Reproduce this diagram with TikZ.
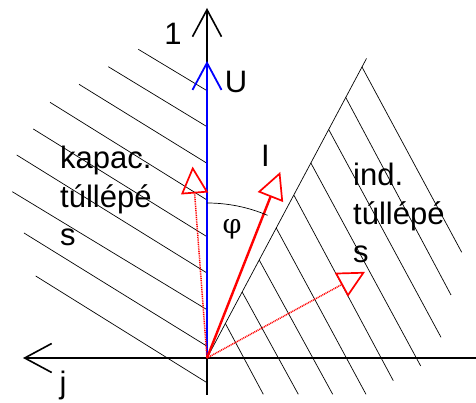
\documentclass[tikz,border=0pt]{standalone}
\usepackage{fontspec}
\setmainfont{Liberation Sans}
\newfontfamily\greekfont{DejaVu Serif}
\usetikzlibrary{arrows.meta, calc}

\begin{document}
\begin{tikzpicture}[x=1pt, y=1pt,
  axis/.style={line width=1.6pt, -{Straight Barb[length=27pt, width=29pt]}},
  hatch/.style={line width=0.7pt},
  phasor/.style={red, line width=2.4pt,
                 -{Triangle[open, length=27pt, width=27pt, line width=1.7pt]}},
  limit/.style={red, dash pattern=on 1pt off 0.8pt, line width=1.5pt,
                -{Triangle[open, length=27pt, width=27pt, line width=1.7pt]}},
  lbl/.style={font=\fontsize{31}{38.5}\selectfont, inner sep=0pt},
  zone/.style={lbl, align=left, anchor=base west}
]
  \useasboundingbox (-207,-45) rectangle (269,358);
  \coordinate (O) at (0,0);

  % capacitive side
  \foreach \sx/\sy/\ey in {-68.7/308.7/267.3, -98.7/291.3/231.3, -128/273.7/194.7,
      -157/255.7/158, -173.7/229/121.3, -190.3/203/85, -194.7/166.3/48.3,
      -183/125/11.8, -171.3/82/-24.7}
    \draw[hatch] (\sx,\sy) -- (0,\ey);

  % inductive side
  \coordinate (edge) at (159.5,299.5);
  \foreach \sy/\ex/\ey in {291/254.7/105.7, 260.5/244/63, 228.5/234/20.7,
      195/213.7/-8, 163/186.3/-22.7, 130/159/-36.3, 98/125.7/-36.3,
      66/91.3/-36.3, 34.5/56.3/-36.3}
    \draw[hatch] ($(O)!\sy/299.5!(edge)$) -- (\ex,\ey);
  \draw[hatch] (O) -- (edge);

  \draw[axis] (0,-37) -- (0,350);
  \draw[axis] (269,0) -- (-184,0);

  \coordinate (Utip) at (0,297);
  \coordinate (Itip) at (68.5:200);
  \coordinate (Ctip) at (94.3:192);
  \coordinate (Ltip) at (28.6:180);

  \draw[blue, line width=2.8pt,
        -{Straight Barb[length=27pt, width=29pt, line width=1.8pt]}] (O) -- (Utip);
  \draw[limit] (O) -- (Ctip);
  \draw[limit] (O) -- (Ltip);
  \draw[phasor] (O) -- (Itip);
  \draw[line width=0.7pt] (0,155) arc[start angle=90, end angle=67, radius=155pt];

  \node[lbl, anchor=base] (one) at (-34,313) {1};
  \node[lbl, anchor=base] (u) at (29,265.5) {U};
  \node[lbl, anchor=base] (i) at (58.5,191) {I};
  \node[lbl, anchor=base] (j) at (-144,-35.5) {j};
  \node[lbl, font=\greekfont\fontsize{27}{30}\selectfont] (phi) at (25,129) {φ};
  \node[zone] (cap) at (-147,112) {kapac.\\túllépé\\s};
  \node[zone] (ind) at (146,95) {ind.\\túllépé\\s};
\end{tikzpicture}
\end{document}
